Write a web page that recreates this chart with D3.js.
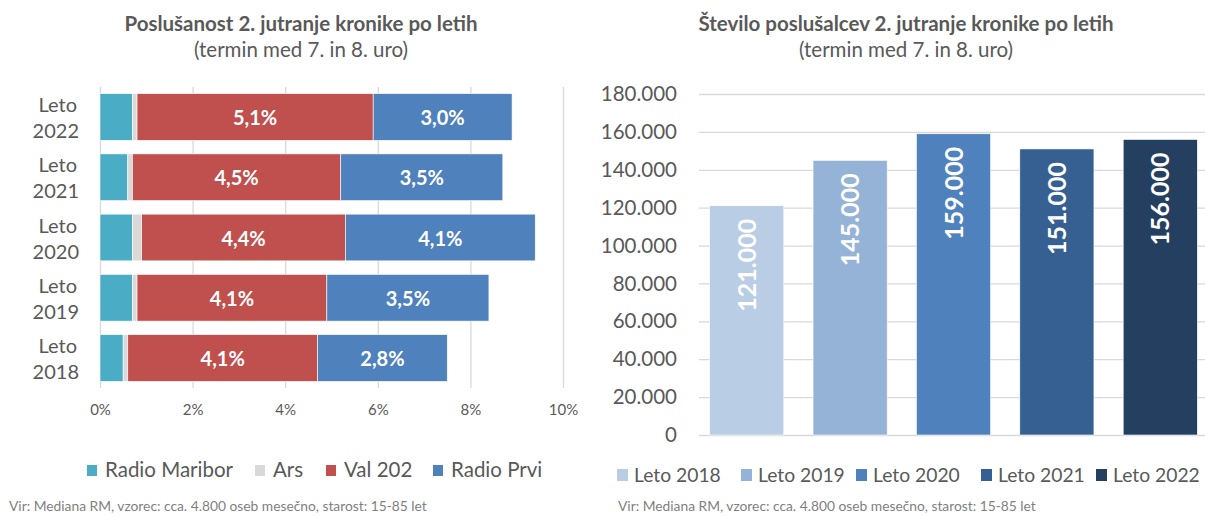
<!DOCTYPE html>
<html>
<head>
<meta charset="utf-8">
<script src="https://cdn.jsdelivr.net/npm/d3@7"></script>
<style>
  body { margin: 0; background: #fff; }
  svg { display: block; font-family: Lato, "Noto Sans", sans-serif; }
</style>
</head>
<body>
<div id="chart"></div>
<script>
// years (top to bottom in the left chart)
var years = ["2022", "2021", "2020", "2019", "2018"];
var stations = ["Radio Maribor", "Ars", "Val 202", "Radio Prvi"];
// listenership share, % per station
var radioMaribor = [0.7, 0.6, 0.7, 0.7, 0.5];
var ars = [0.1, 0.1, 0.2, 0.1, 0.1];
var val202 = [5.1, 4.5, 4.4, 4.1, 4.1];
var radioPrvi = [3.0, 3.5, 4.1, 3.5, 2.8];
var pctTicks = [0, 2, 4, 6, 8, 10];

// listeners per year (right chart)
var listenYears = ["Leto 2018", "Leto 2019", "Leto 2020", "Leto 2021", "Leto 2022"];
var listeners = [121000, 145000, 159000, 151000, 156000];
var countTicks = [0, 20000, 40000, 60000, 80000, 100000, 120000, 140000, 160000, 180000];

var stationColors = ["#4bacc6", "#d9d9d9", "#c0504d", "#4f81bd"];
var yearColors = ["#b9cde5", "#95b3d7", "#4f81bd", "#376092", "#253f61"];

var sl = d3.formatLocale({decimal: ",", thousands: ".", grouping: [3], currency: ["", " €"]});
var fmtPct = sl.format(".1f");
var fmtNum = sl.format(",d");

var W = 1205, H = 516;
var textCol = "#595959", gridCol = "#d9d9d9";

var svg = d3.select("#chart").append("svg")
    .attr("width", W)
    .attr("height", H);

// ****************** left chart: stacked horizontal bars ******************

var rows = years.map(function(y, i) {
    return {year: y, "Radio Maribor": radioMaribor[i], "Ars": ars[i], "Val 202": val202[i], "Radio Prvi": radioPrvi[i]};
});
var series = d3.stack().keys(stations)(rows);

var x = d3.scaleLinear().domain([0, 10]).range([100, 563]);
var y = d3.scaleBand().domain(years).range([87, 388]).paddingInner(0.225).paddingOuter(0.11);

var left = svg.append("g");

left.append("text")
    .attr("x", 301).attr("y", 31)
    .attr("text-anchor", "middle")
    .attr("font-size", 20.5).attr("font-weight", "bold")
    .attr("fill", textCol)
    .text("Poslušanost 2. jutranje kronike po letih");
left.append("text")
    .attr("x", 301).attr("y", 57)
    .attr("text-anchor", "middle")
    .attr("font-size", 20.5)
    .attr("fill", textCol)
    .text("(termin med 7. in 8. uro)");

// gridlines + tick labels
var xAxis = left.append("g")
    .attr("transform", "translate(0,388)")
    .call(d3.axisBottom(x).tickValues(pctTicks).tickSize(-301).tickPadding(16)
        .tickFormat(function(d) { return d + "%"; }));
xAxis.select(".domain").remove();
xAxis.selectAll(".tick line").attr("stroke", gridCol).attr("stroke-width", 1.3);
xAxis.selectAll(".tick text").attr("fill", textCol).attr("font-size", 15)
    .attr("font-family", "Lato, sans-serif");

// bars
left.selectAll("g.layer")
    .data(series)
    .enter().append("g")
    .attr("class", "layer")
    .attr("fill", function(d, i) { return stationColors[i]; })
    .selectAll("rect")
    .data(function(d) { return d; })
    .enter().append("rect")
    .attr("x", function(d) { return x(d[0]); })
    .attr("y", function(d) { return y(d.data.year); })
    .attr("width", function(d) { return x(d[1]) - x(d[0]); })
    .attr("height", y.bandwidth())
    .attr("stroke", "#fff").attr("stroke-width", 0.6);

// value labels on Val 202 and Radio Prvi
series.filter(function(s) { return s.key === "Val 202" || s.key === "Radio Prvi"; })
    .forEach(function(s) {
        left.selectAll(null)
            .data(s)
            .enter().append("text")
            .attr("x", function(d) { return (x(d[0]) + x(d[1])) / 2; })
            .attr("y", function(d) { return y(d.data.year) + y.bandwidth() / 2 + 8; })
            .attr("text-anchor", "middle")
            .attr("font-size", 20).attr("font-weight", "bold")
            .attr("fill", "#fff")
            .text(function(d) { return fmtPct(d[1] - d[0]) + "%"; });
    });

// category labels (two lines)
var cat = left.selectAll("text.cat")
    .data(years)
    .enter().append("text")
    .attr("class", "cat")
    .attr("text-anchor", "end")
    .attr("font-size", 20)
    .attr("fill", textCol);
cat.append("tspan")
    .attr("x", 77)
    .attr("y", function(d) { return y(d) + y.bandwidth() / 2 - 5; })
    .text("Leto");
cat.append("tspan")
    .attr("x", 79)
    .attr("y", function(d) { return y(d) + y.bandwidth() / 2 + 21; })
    .text(function(d) { return d; });

// legend
var legX = [87, 255, 326, 433];
var leg = left.selectAll("g.leg")
    .data(stations)
    .enter().append("g")
    .attr("class", "leg")
    .attr("transform", function(d, i) { return "translate(" + legX[i] + ",477)"; });
leg.append("rect")
    .attr("x", 0).attr("y", -12).attr("width", 10).attr("height", 11)
    .attr("fill", function(d, i) { return stationColors[i]; });
leg.append("text")
    .attr("x", 18).attr("y", 0)
    .attr("font-size", 20.5).attr("fill", textCol)
    .text(function(d) { return d; });

left.append("text")
    .attr("x", 9).attr("y", 511)
    .attr("font-size", 13.8).attr("fill", "#7f7f7f")
    .text("Vir: Mediana RM, vzorec: cca. 4.800 oseb mesečno, starost: 15-85 let");

// ****************** right chart: vertical bars ******************

var right = svg.append("g");

right.append("text")
    .attr("x", 906).attr("y", 31)
    .attr("text-anchor", "middle")
    .attr("font-size", 20.5).attr("font-weight", "bold")
    .attr("fill", textCol)
    .text("Število poslušalcev 2. jutranje kronike po letih");
right.append("text")
    .attr("x", 906).attr("y", 57)
    .attr("text-anchor", "middle")
    .attr("font-size", 20.5)
    .attr("fill", textCol)
    .text("(termin med 7. in 8. uro)");

var x2 = d3.scaleBand().domain(listenYears).range([695, 1212]).paddingInner(0.283).paddingOuter(0.142);
var y2 = d3.scaleLinear().domain([0, 180000]).range([435, 94]);

var yAxis = right.append("g")
    .attr("transform", "translate(699,0)")
    .call(d3.axisLeft(y2).tickValues(countTicks).tickSize(-510).tickPadding(22)
        .tickFormat(function(d) { return fmtNum(d); }));
yAxis.select(".domain").remove();
yAxis.selectAll(".tick line").attr("stroke", gridCol).attr("stroke-width", 1.3);
yAxis.selectAll(".tick text").attr("fill", textCol).attr("font-size", 20.5)
    .attr("font-family", "Lato, sans-serif");

right.selectAll("rect.bar")
    .data(listeners)
    .enter().append("rect")
    .attr("class", "bar")
    .attr("x", function(d, i) { return x2(listenYears[i]); })
    .attr("y", function(d) { return y2(d); })
    .attr("width", x2.bandwidth())
    .attr("height", function(d) { return y2(0) - y2(d); })
    .attr("fill", function(d, i) { return yearColors[i]; })
    .attr("stroke", "#fff").attr("stroke-width", 0.6);

right.selectAll("text.val")
    .data(listeners)
    .enter().append("text")
    .attr("class", "val")
    .attr("transform", function(d, i) {
        return "translate(" + (x2(listenYears[i]) + x2.bandwidth() / 2 + 9) + "," + (y2(d) + 13) + ") rotate(-90)";
    })
    .attr("text-anchor", "end")
    .attr("font-size", 25).attr("font-weight", "bold")
    .attr("fill", "#fff")
    .text(function(d) { return fmtNum(d); });

var legX2 = [617, 741, 856, 981, 1096];
var leg2 = right.selectAll("g.leg2")
    .data(listenYears)
    .enter().append("g")
    .attr("class", "leg2")
    .attr("transform", function(d, i) { return "translate(" + legX2[i] + ",482)"; });
leg2.append("rect")
    .attr("x", 0).attr("y", -13).attr("width", 11).attr("height", 12)
    .attr("fill", function(d, i) { return yearColors[i]; });
leg2.append("text")
    .attr("x", 17).attr("y", 0)
    .attr("font-size", 19.3).attr("fill", textCol)
    .text(function(d) { return d; });

right.append("text")
    .attr("x", 618).attr("y", 511)
    .attr("font-size", 13.8).attr("fill", "#7f7f7f")
    .text("Vir: Mediana RM, vzorec: cca. 4.800 oseb mesečno, starost: 15-85 let");
</script>
</body>
</html>
